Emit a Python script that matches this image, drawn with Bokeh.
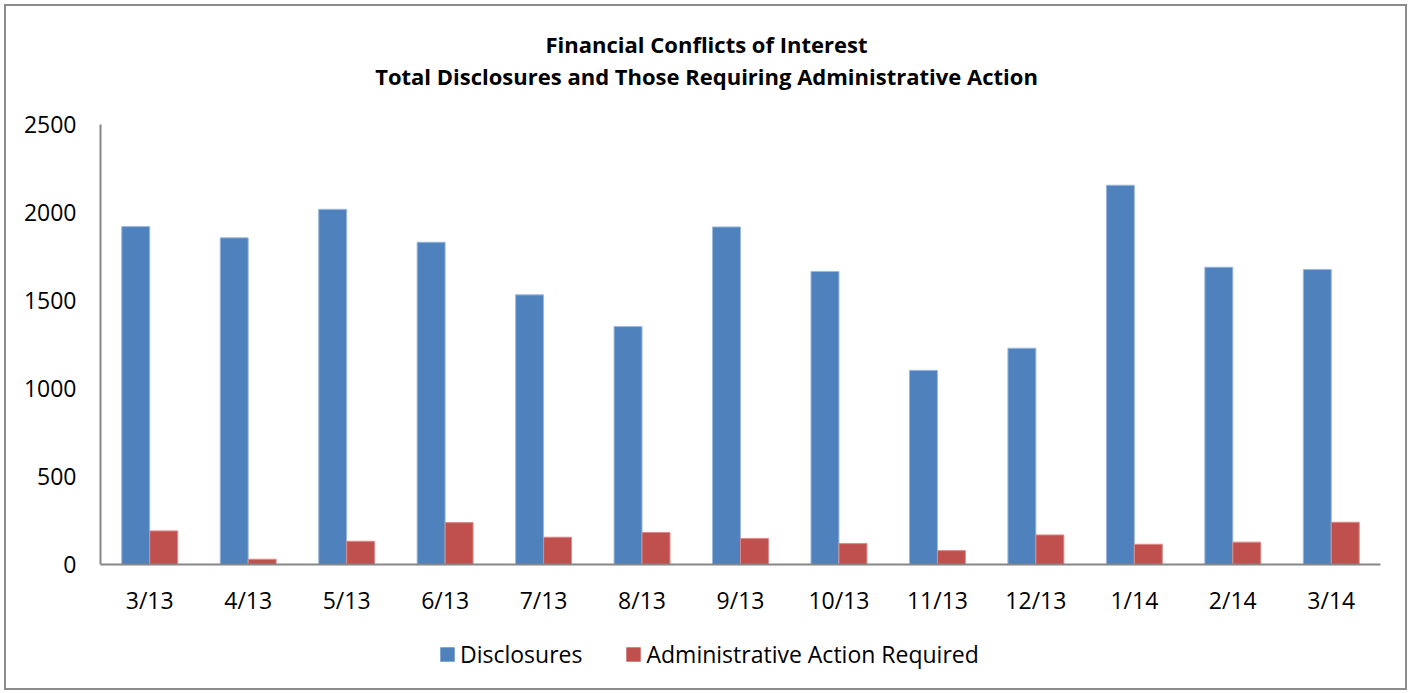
from bokeh.plotting import figure
from bokeh.layouts import column
from bokeh.models import ColumnDataSource, FactorRange, Range1d, Legend, LegendItem, SingleIntervalTicker
from bokeh.core.properties import value
from bokeh.transform import dodge
from bokeh.embed import file_html
from bokeh.resources import INLINE

months = ["3/13", "4/13", "5/13", "6/13", "7/13", "8/13", "9/13", "10/13", "11/13", "12/13", "1/14", "2/14", "3/14"]
disclosures = [1920, 1856, 2018, 1831, 1532, 1352, 1918, 1665, 1103, 1229, 2155, 1689, 1676]
admin_action = [191, 30, 132, 238, 155, 182, 148, 119, 79, 168, 115, 127, 240]
title_lines = ["Financial Conflicts of Interest", "Total Disclosures and Those Requiring Administrative Action"]
series_names = ["Disclosures", "Administrative Action Required"]
series_colors = ["#4F81BD", "#C0504D"]
edge_colors = ["#9db8dc", "#d98b89"]

FONT = "Open Sans"
W = 1399
FRAME_L, FRAME_R = 100, 1380   # page x of the plot frame (frames of the column are aligned)

# ---- title strip ----
TH = 96
pt = figure(width=W, height=TH, x_range=Range1d(FRAME_L, FRAME_R), y_range=Range1d(TH, 0),
            x_axis_type=None, y_axis_type=None, output_backend="svg", toolbar_location=None,
            min_border=0)
pt.title = None
pt.outline_line_color = None
pt.grid.grid_line_color = None
pt.text(x=[706, 706], y=[37, 69], text=title_lines, text_align="center", text_baseline="alphabetic",
        text_font=value(FONT), text_font_size="22px", text_font_style="bold", text_color="#000000")

# ---- main chart ----
src = ColumnDataSource(dict(month=months, disc=disclosures, admin=admin_action))
p = figure(width=W, height=522, x_range=FactorRange(*months, range_padding=0),
           y_range=Range1d(0, 2500), output_backend="svg", toolbar_location=None,
           min_border_left=94, min_border_right=25, min_border_top=22, min_border_bottom=60)
p.title = None
p.outline_line_color = None
p.xgrid.grid_line_color = None
p.ygrid.grid_line_color = None

bw = 0.284
r1 = p.vbar(x=dodge("month", -bw / 2, range=p.x_range), top="disc", width=bw, source=src,
            fill_color=series_colors[0], line_color=edge_colors[0], line_width=1)
r2 = p.vbar(x=dodge("month", bw / 2, range=p.x_range), top="admin", width=bw, source=src,
            fill_color=series_colors[1], line_color=edge_colors[1], line_width=1)

p.yaxis.ticker = SingleIntervalTicker(interval=500)
for ax in (p.xaxis[0], p.yaxis[0]):
    ax.axis_line_color = "#868686"
    ax.axis_line_width = 2
    ax.major_tick_line_color = None
    ax.minor_tick_line_color = None
    ax.major_tick_out = 0
    ax.major_tick_in = 0
    ax.minor_tick_out = 0
    ax.major_label_text_font = FONT
    ax.major_label_text_font_size = "23px"
    ax.major_label_text_color = "#000000"
p.yaxis.major_label_standoff = 24
p.xaxis.major_label_standoff = 19

# ---- legend strip ----
LH = 64
pl = figure(width=W, height=LH, x_range=Range1d(0, 1), y_range=Range1d(0, 1),
            x_axis_type=None, y_axis_type=None, output_backend="svg", toolbar_location=None,
            min_border=0)
pl.title = None
pl.outline_line_color = None
pl.grid.grid_line_color = None
# zero-height bars: they only lend their colours to the legend swatches
d1 = pl.vbar(x=[0.5], top=[0], bottom=0, width=0.1, fill_color=series_colors[0], line_color=None)
d2 = pl.vbar(x=[0.5], top=[0], bottom=0, width=0.1, fill_color=series_colors[1], line_color=None)
legend = Legend(items=[LegendItem(label=series_names[0], renderers=[d1]),
                       LegendItem(label=series_names[1], renderers=[d2])],
                orientation="horizontal", location=(338, 18),
                glyph_width=18, glyph_height=18, label_height=22, label_standoff=4, spacing=42,
                padding=0, margin=0, border_line_color=None, background_fill_alpha=0,
                label_text_font=FONT, label_text_font_size="23px", label_text_color="#000000")
pl.add_layout(legend, "center")

layout = column(pt, p, pl, spacing=0,
                styles={"border": "2px solid #8c8c8c", "margin-left": "4px", "margin-top": "4px"})

open("out.html", "w").write(file_html(layout, INLINE))
